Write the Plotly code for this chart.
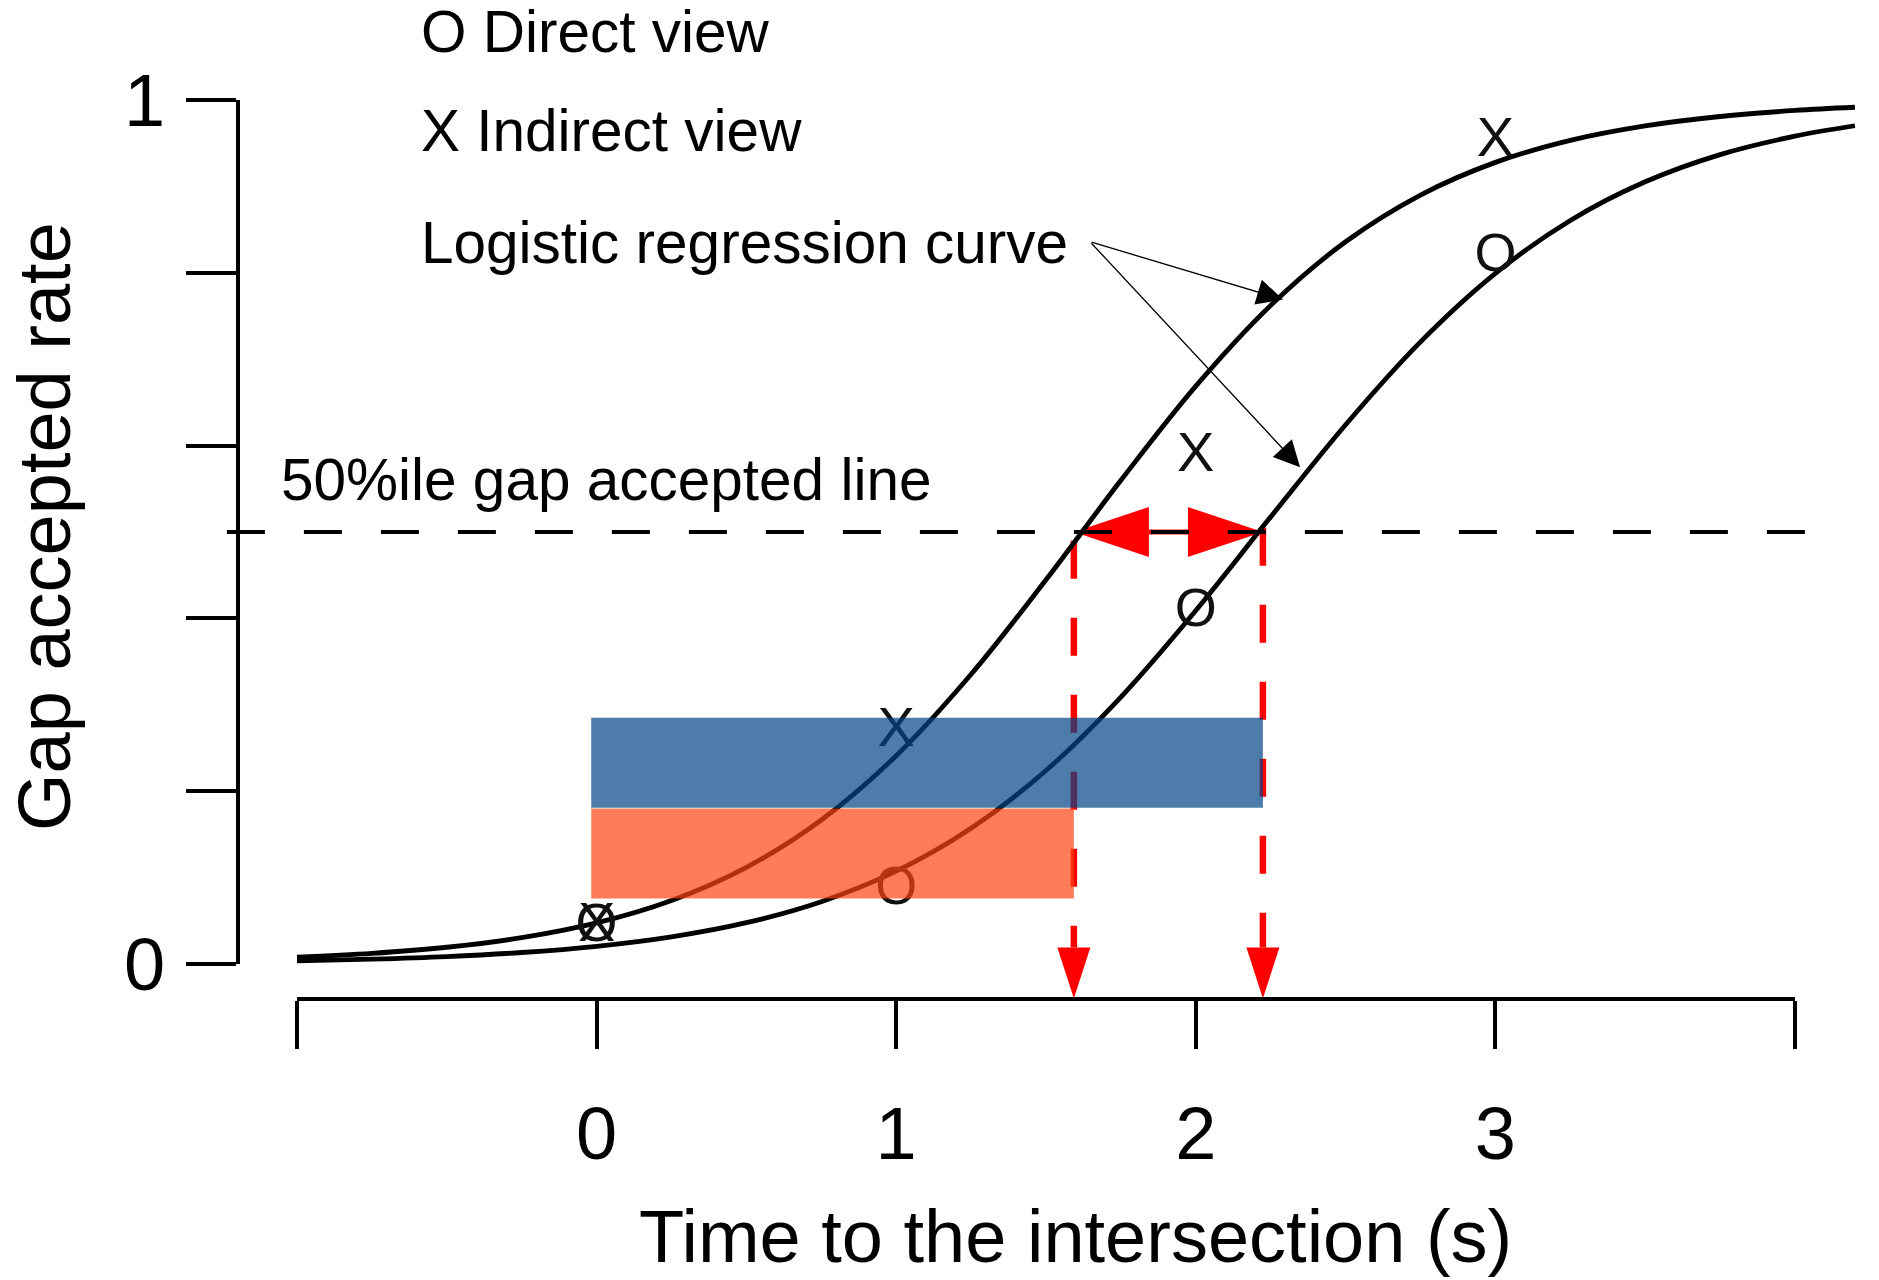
import plotly.graph_objects as go

# ---------------- data ----------------
t_grid = [-1, -0.75, -0.5, -0.25, 0, 0.25, 0.5, 0.75, 1, 1.25, 1.5, 1.75, 2,
          2.25, 2.5, 2.75, 3, 3.25, 3.5, 3.75, 4, 4.2]
curve_indirect = [0.0078, 0.0123, 0.0194, 0.0305, 0.0476, 0.0735, 0.1119, 0.1667,
                  0.241, 0.3353, 0.4447, 0.5598, 0.6689, 0.7623, 0.8359, 0.89,
                  0.9278, 0.9533, 0.97, 0.9809, 0.9879, 0.9916]
curve_direct = [0.0036, 0.0056, 0.0086, 0.0133, 0.0205, 0.0314, 0.0478, 0.0721,
                0.1074, 0.1571, 0.224, 0.309, 0.4091, 0.5175, 0.6242, 0.7201,
                0.7994, 0.8606, 0.9053, 0.9368, 0.9582, 0.9702]

obs_t = [0, 1, 2, 3]
obs_indirect = [0.047, 0.273, 0.591, 0.956]
obs_direct = [0.047, 0.090, 0.411, 0.822]

gap50_names = ["Indirect view", "Direct view"]
gap50_values = [1.593, 2.224]          # time where each curve crosses 50 %
bar_base = -0.018
bar_levels = [0.128, 0.233]            # vertical centre of each bar
bar_colors = ["rgba(255,68,18,0.7)", "rgba(2,69,134,0.7)"]
vline_tops = [0.49, 0.505]
accept_level = 0.5
dash_line_extent = [-1.234, 4.033]

x_tickvals = [-1, 0, 1, 2, 3, 4]
x_ticktext = ["", "0", "1", "2", "3", ""]
y_tickvals = [0, 0.2, 0.4, 0.6, 0.8, 1.0]
y_ticktext = ["0", "", "", "", "", "1"]

# ---------------- geometry (pixels) ----------------
W, H = 1879, 1280
XL_PX, XR_PX = 297, 1795      # x = -1 and x = 4
Y0_PX, Y1_PX = 964, 100       # y = 0 and y = 1
XAXIS_PX = 998.5
YAXIS_PX = 238
PX = (XR_PX - XL_PX) / 5.0
PY = float(Y0_PX - Y1_PX)
TEXT_DY = 4 / PY              # letter glyphs render slightly high in plotly

x_range = [-1 - XL_PX / PX, -1 + (W - XL_PX) / PX]
y_range = [-(H - Y0_PX) / PY, 1 + Y1_PX / PY]
y_axis_val = -(XAXIS_PX - Y0_PX) / PY

FONT = "Liberation Sans, Arial, sans-serif"
RED = "#ff0000"

fig = go.Figure()

# red vertical dashed arrows
HEAD_V_LEN, HEAD_V_HALF = 51 / PY, 16.5 / PX
for g, top in zip(gap50_values, vline_tops):
    base = y_axis_val + HEAD_V_LEN
    fig.add_trace(go.Scatter(x=[g, g], y=[top, base], mode="lines",
                             line=dict(color=RED, width=6.5, dash="38px,39px"),
                             hoverinfo="skip"))
    fig.add_trace(go.Scatter(x=[g - HEAD_V_HALF, g + HEAD_V_HALF, g, g - HEAD_V_HALF],
                             y=[base, base, y_axis_val, base], mode="lines",
                             fill="toself", fillcolor=RED, line=dict(color=RED, width=0),
                             hoverinfo="skip"))

# red horizontal double arrow
HEAD_H_LEN, HEAD_H_HALF = 75 / PX, 25 / PY
g1, g2 = gap50_values
fig.add_trace(go.Scatter(x=[g1 + HEAD_H_LEN, g2 - HEAD_H_LEN], y=[accept_level, accept_level],
                         mode="lines", line=dict(color=RED, width=5), hoverinfo="skip"))
fig.add_trace(go.Scatter(x=[g1, g1 + HEAD_H_LEN, g1 + HEAD_H_LEN, g1],
                         y=[accept_level, accept_level + HEAD_H_HALF, accept_level - HEAD_H_HALF, accept_level],
                         mode="lines", fill="toself", fillcolor=RED, line=dict(color=RED, width=0),
                         hoverinfo="skip"))
fig.add_trace(go.Scatter(x=[g2, g2 - HEAD_H_LEN, g2 - HEAD_H_LEN, g2],
                         y=[accept_level, accept_level + HEAD_H_HALF, accept_level - HEAD_H_HALF, accept_level],
                         mode="lines", fill="toself", fillcolor=RED, line=dict(color=RED, width=0),
                         hoverinfo="skip"))

# black dashed 50 % line
fig.add_trace(go.Scatter(x=dash_line_extent, y=[accept_level, accept_level], mode="lines",
                         line=dict(color="black", width=4, dash="38px,39px"), hoverinfo="skip"))

# logistic regression curves
for ys in (curve_indirect, curve_direct):
    fig.add_trace(go.Scatter(x=t_grid, y=ys, mode="lines",
                             line=dict(color="black", width=4.8, shape="spline", smoothing=1.0),
                             hoverinfo="skip"))

# observed points as letters
fig.add_trace(go.Scatter(x=obs_t, y=[v - TEXT_DY for v in obs_indirect], mode="text",
                         text=["X"] * len(obs_t), textposition="middle center",
                         textfont=dict(family=FONT, size=56, color="#111"), hoverinfo="skip"))
fig.add_trace(go.Scatter(x=obs_t, y=[v - TEXT_DY for v in obs_direct], mode="text",
                         text=["O"] * len(obs_t), textposition="middle center",
                         textfont=dict(family=FONT, size=54, color="#111"), hoverinfo="skip"))

# bars on an overlaid subplot (drawn over the curves)
for name, val, lvl, col in zip(gap50_names, gap50_values, bar_levels, bar_colors):
    fig.add_trace(go.Bar(x=[val - bar_base], y=[lvl], base=bar_base, orientation="h",
                         width=90 / PY, marker=dict(color=col, line=dict(width=0)), name=name,
                         xaxis="x3", yaxis="y3", hoverinfo="skip"))

# dummy trace to create the visible axis subplot
fig.add_trace(go.Scatter(x=[0], y=[0], mode="markers", marker=dict(opacity=0),
                         xaxis="x2", yaxis="y2", hoverinfo="skip"))

hidden = dict(visible=False, showgrid=False, zeroline=False, fixedrange=True, automargin=False)
fig.update_layout(
    width=W, height=H,
    margin=dict(l=0, r=0, t=0, b=0, pad=0, autoexpand=False),
    paper_bgcolor="white", plot_bgcolor="rgba(0,0,0,0)",
    showlegend=False, hovermode=False, barmode="overlay",
    font=dict(family=FONT, color="black"),
    xaxis=dict(domain=[0, 1], range=x_range, **hidden),
    yaxis=dict(domain=[0, 1], range=y_range, **hidden),
    xaxis3=dict(overlaying="x", range=x_range, **hidden),
    yaxis3=dict(overlaying="y", range=y_range, **hidden),
    xaxis2=dict(domain=[XL_PX / W, XR_PX / W], range=[-1, 4], anchor="free",
                position=1 - XAXIS_PX / H, side="bottom", automargin=False,
                showline=True, linecolor="black", linewidth=4,
                ticks="outside", ticklen=48, tickwidth=4, tickcolor="black",
                tickmode="array", tickvals=x_tickvals, ticktext=x_ticktext,
                tickfont=dict(family=FONT, size=74, color="black"),
                ticklabelstandoff=22, showgrid=False, zeroline=False, fixedrange=True),
    yaxis2=dict(domain=[1 - Y0_PX / H, 1 - Y1_PX / H], range=[0, 1], anchor="free",
                position=YAXIS_PX / W, side="left", automargin=False,
                showline=True, linecolor="black", linewidth=4,
                ticks="outside", ticklen=50, tickwidth=4, tickcolor="black",
                tickmode="array", tickvals=y_tickvals, ticktext=y_ticktext,
                tickfont=dict(family=FONT, size=74, color="black"),
                ticklabelstandoff=6, showgrid=False, zeroline=False, fixedrange=True),
)

def pfx(px):
    return px / W

def pfy(py):
    return 1 - py / H

texts = [
    ("O Direct view", 419, 31.5),
    ("X Indirect view", 419, 131),
    ("Logistic regression curve", 419, 243),
    ("50%ile gap accepted line", 279, 479),
]
for txt, lx, cy in texts:
    fig.add_annotation(text=txt, x=pfx(lx), y=pfy(cy), xref="paper", yref="paper",
                       xanchor="left", yanchor="middle", showarrow=False,
                       font=dict(family=FONT, size=58.5, color="black"))

# pointer arrows to the curves
tail = (1.647, 0.836)
for tip in [(2.291, 0.769), (2.348, 0.575)]:
    fig.add_annotation(x=tip[0], y=tip[1], ax=tail[0], ay=tail[1], xref="x", yref="y",
                       axref="x", ayref="y", text="", showarrow=True, arrowhead=2,
                       arrowsize=4.0, arrowwidth=1.3, arrowcolor="black", standoff=0)

# axis titles
fig.add_annotation(text="Time to the intersection (s)", x=pfx(1075), y=pfy(1236),
                   xref="paper", yref="paper", xanchor="center", yanchor="middle",
                   showarrow=False, font=dict(family=FONT, size=74, color="black"))
fig.add_annotation(text="Gap accepted rate", x=pfx(44), y=pfy(527), textangle=-90,
                   xref="paper", yref="paper", xanchor="center", yanchor="middle",
                   showarrow=False, font=dict(family=FONT, size=74, color="black"))

# remove the page's default body margin so the figure fills the window exactly
fig.write_html("out.html", config={"displayModeBar": False},
               post_script="document.body.style.margin='0';")
